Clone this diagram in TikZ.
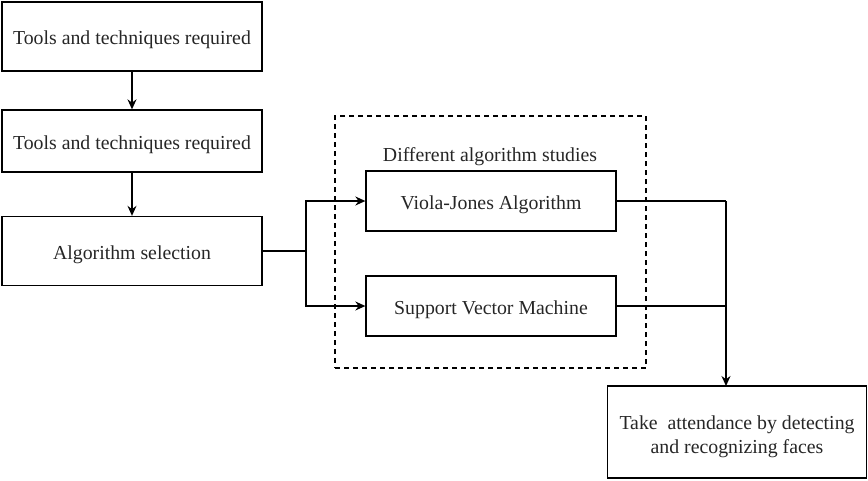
\documentclass[tikz,border=0pt]{standalone}
\usepackage{fontspec}
\setmainfont{Liberation Serif}
\usetikzlibrary{arrows.meta}
\begin{document}
\begin{tikzpicture}[x=1pt,y=-1pt,
  box/.style={draw, line width=1.3pt, minimum width=#1, inner sep=0pt, font=\fontsize{19.8}{24}\selectfont, text=black!85, align=center, text height=16.8pt, text depth=0pt},
  conn/.style={line width=1.4pt, -{Stealth[length=10pt,width=9pt]}},
  plain/.style={line width=1.4pt}]
\useasboundingbox (0,0) rectangle (868,480);
\node[box=260pt, minimum height=69pt] (t1) at (132,36.5) {Tools and techniques required};
\node[box=260pt, minimum height=62pt] (t2) at (132,141) {Tools and techniques required};
\node[box=260pt, minimum height=69pt] (a) at (132,251) {Algorithm selection};
\node[draw, dashed, line width=1.3pt, dash pattern=on 5pt off 4pt, minimum width=311pt, minimum height=252pt, inner sep=0pt] (grp) at (490.5,242) {};
\node[font=\fontsize{19.8}{24}\selectfont, text=black!85, text height=16.8pt, text depth=0pt, inner sep=0pt] (lbl) at (490,153) {Different algorithm studies};
\node[box=250pt, minimum height=60pt] (v) at (491,201) {Viola-Jones Algorithm};
\node[box=250pt, minimum height=60pt] (s) at (491,306) {Support Vector Machine};
\node[box=259pt, minimum height=92pt, text height=42pt, text depth=0pt] (f) at (737,432) {Take\ \ attendance by detecting\\and recognizing faces};
\coordinate (bx) at (306,251);
\coordinate (mx) at (726,201);
\coordinate (my) at (726,306);
\coordinate (fin) at (726,386);
\draw[conn] (t1) -- (t2);
\draw[conn] (t2) -- (a);
\draw[plain] (a.east) -- (bx);
\draw[conn] (bx) |- (v.west);
\draw[conn] (bx) |- (s.west);
\draw[plain] (v.east) -- (mx);
\draw[plain] (s.east) -- (my);
\draw[conn] (mx) -- (fin);
\end{tikzpicture}
\end{document}
